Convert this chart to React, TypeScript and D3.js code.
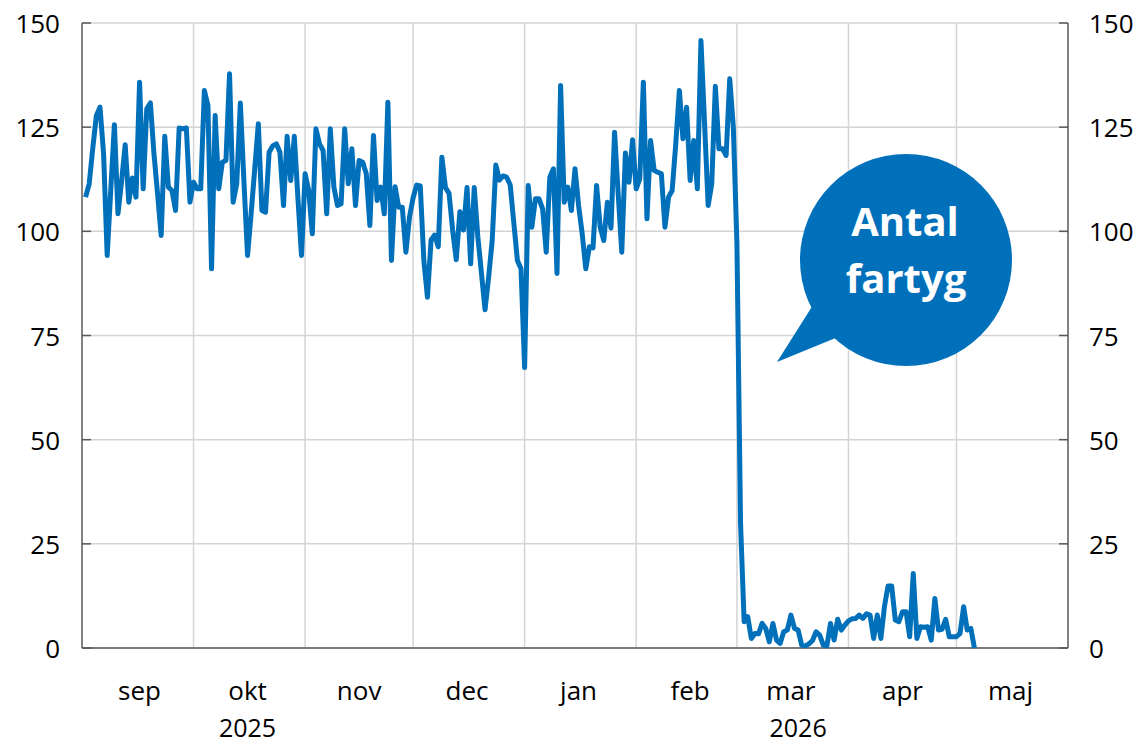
import * as d3 from "d3";

// Antal fartyg per dag, 1 sep 2025 - 6 maj 2026
const sep = [108.2, 111.4, 120, 127.8, 129.8, 118.6, 94.2, 110, 125.6, 104.2, 112, 120.8, 107, 112.8, 108.2, 135.8, 110.2, 129.4, 130.8, 118.6, 109, 99, 122.8, 110.6, 109.8, 105, 124.8, 124.6, 124.8, 107];
const okt = [111.8, 110.2, 110.2, 133.8, 130.2, 91, 127.8, 110.2, 116.6, 117, 137.8, 107, 111.4, 130.8, 112, 94.2, 104.2, 115, 125.8, 105, 104.6, 119, 120.5, 121, 119, 106.2, 122.8, 112.2, 122.8, 108, 94.2];
const nov = [113.8, 109.8, 99.4, 124.6, 121, 119.4, 104.2, 124.6, 110.6, 106.2, 106.6, 124.6, 111.4, 119.8, 106.2, 117, 116.6, 113.8, 101.4, 123, 107.4, 110.6, 104.2, 131, 93, 110.7, 105.8, 105.8, 95, 103.4];
const dec = [108, 111.1, 110.9, 93, 84.2, 97.9, 99.1, 96.3, 117.8, 110.5, 109.1, 100.3, 93.2, 104.7, 100.3, 110.5, 92.2, 110.5, 98.7, 90, 81.2, 89, 97.9, 115.9, 112.3, 113.3, 113, 111.1, 102, 93, 91];
const jan = [67.3, 111, 101, 107.8, 107.8, 105.4, 95, 113, 115, 89.9, 135, 107, 110.6, 105, 115, 106.2, 99.4, 91, 96.3, 96, 111, 101, 97.8, 107, 100.8, 123.8, 109, 95, 118.8, 111.8, 122];
const feb = [110.2, 112.6, 135.8, 103, 121.8, 114.6, 114.2, 113.8, 101, 108.2, 109.8, 121, 133.8, 122.2, 129.8, 112.2, 121.8, 110.2, 145.8, 126, 106.2, 111.4, 134.8, 119.8, 119.8, 118.2, 136.6, 125];
const mar = [97, 30, 6.3, 7.5, 2.3, 3.5, 3.4, 5.9, 4.7, 1.5, 5.9, 1.9, 1.1, 3.9, 4.3, 7.9, 4.7, 4.3, 0.7, 0.5, 1, 1.8, 3.9, 3.1, 0.7, 0.5, 5.9, 1.9, 6.9, 4.3, 5.5];
const apr = [6.5, 7, 7.1, 7.9, 7.1, 8.2, 7.9, 2.3, 7.9, 2.3, 10, 14.9, 14.9, 6.7, 6.3, 8.7, 8.7, 2.7, 17.9, 2.3, 5.1, 5, 5.1, 1.9, 11.9, 4.3, 4.5, 6.9, 2.7, 2.7];
const maj = [2.7, 3.5, 9.9, 4.3, 4.7, 0];

const monthLabels = ["sep", "okt", "nov", "dec", "jan", "feb", "mar", "apr", "maj"];
const yearLabels = ["2025", "2026"];
const yTicks = [0, 25, 50, 75, 100, 125, 150];

const values = [...sep, ...okt, ...nov, ...dec, ...jan, ...feb, ...mar, ...apr, ...maj];
const startDate = new Date(2025, 8, 1);
const data = values.map((v, i) => ({ date: d3.timeDay.offset(startDate, i), value: v }));

const W = 1142;
const H = 743;
const BLUE = "#0070BA";
const GRID = "#d4d4d4";
const AXIS = "#595959";
const FONT = "'Open Sans', 'Noto Sans', sans-serif";

export default function App() {
  const x = d3
    .scaleTime()
    .domain([new Date(2025, 7, 31), new Date(2026, 5, 1)])
    .range([82, 1068]);
  const y = d3.scaleLinear().domain([0, 150]).range([648, 23]);

  const [x0, x1] = x.range();
  const [y0, y1] = y.range();

  // månadsgränser för rutnätet (okt - maj)
  const monthStarts = d3.timeMonth.range(new Date(2025, 9, 1), new Date(2026, 4, 2));
  const labelDates = d3.timeMonth
    .range(new Date(2025, 8, 1), new Date(2026, 5, 1))
    .map((d) => d3.timeDay.offset(d, 15));
  const yearDates = [new Date(2025, 9, 16), new Date(2026, 2, 18)];

  const line = d3
    .line<{ date: Date; value: number }>()
    .x((d) => x(d.date))
    .y((d) => y(d.value));

  return (
    <svg
      width={W}
      height={H}
      style={{ position: "absolute", left: 0, top: 0, background: "#fff" }}
      fontFamily={FONT}
    >
      {/* rutnät */}
      {yTicks.map((t) => (
        <line key={"h" + t} x1={x0} x2={x1} y1={y(t)} y2={y(t)} stroke={GRID} strokeWidth={1.5} />
      ))}
      {monthStarts.map((d) => (
        <line key={"v" + d.getTime()} x1={x(d)} x2={x(d)} y1={y1} y2={y0} stroke={GRID} strokeWidth={1.5} />
      ))}

      {/* axlar */}
      <line x1={x0} x2={x0} y1={y1} y2={y0} stroke={AXIS} strokeWidth={1.5} />
      <line x1={x1} x2={x1} y1={y1} y2={y0} stroke={AXIS} strokeWidth={1.5} />
      <line x1={x0} x2={x1} y1={y0} y2={y0} stroke={AXIS} strokeWidth={1.5} />
      {yTicks.map((t) => (
        <g key={"t" + t}>
          <line x1={x0} x2={x0 + 9} y1={y(t)} y2={y(t)} stroke={AXIS} strokeWidth={1.5} />
          <line x1={x1 - 9} x2={x1} y1={y(t)} y2={y(t)} stroke={AXIS} strokeWidth={1.5} />
          <text x={60} y={y(t)} textAnchor="end" dominantBaseline="central" fontSize={26} fill="#000">
            {t}
          </text>
          <text x={1089} y={y(t)} textAnchor="start" dominantBaseline="central" fontSize={26} fill="#000">
            {t}
          </text>
        </g>
      ))}

      {/* månads- och årsetiketter */}
      {labelDates.map((d, i) => (
        <text key={"m" + i} x={x(d)} y={690} textAnchor="middle" dominantBaseline="central" fontSize={26} fill="#000">
          {monthLabels[i]}
        </text>
      ))}
      {yearDates.map((d, i) => (
        <text key={"y" + i} x={x(d)} y={737} textAnchor="middle" fontSize={25} fill="#000">
          {yearLabels[i]}
        </text>
      ))}

      {/* serien */}
      <path d={line(data) ?? ""} fill="none" stroke={BLUE} strokeWidth={5} strokeLinejoin="round" />

      {/* pratbubbla */}
      <g>
        <path d="M813,305 L777,362 L838,337 Z" fill={BLUE} />
        <circle cx={906} cy={260} r={106} fill={BLUE} />
        <text x={905} y={236} textAnchor="middle" fontSize={40} fontWeight="bold" fill="#fff">
          Antal
        </text>
        <text x={906} y={293} textAnchor="middle" fontSize={40} fontWeight="bold" fill="#fff">
          fartyg
        </text>
      </g>
    </svg>
  );
}
